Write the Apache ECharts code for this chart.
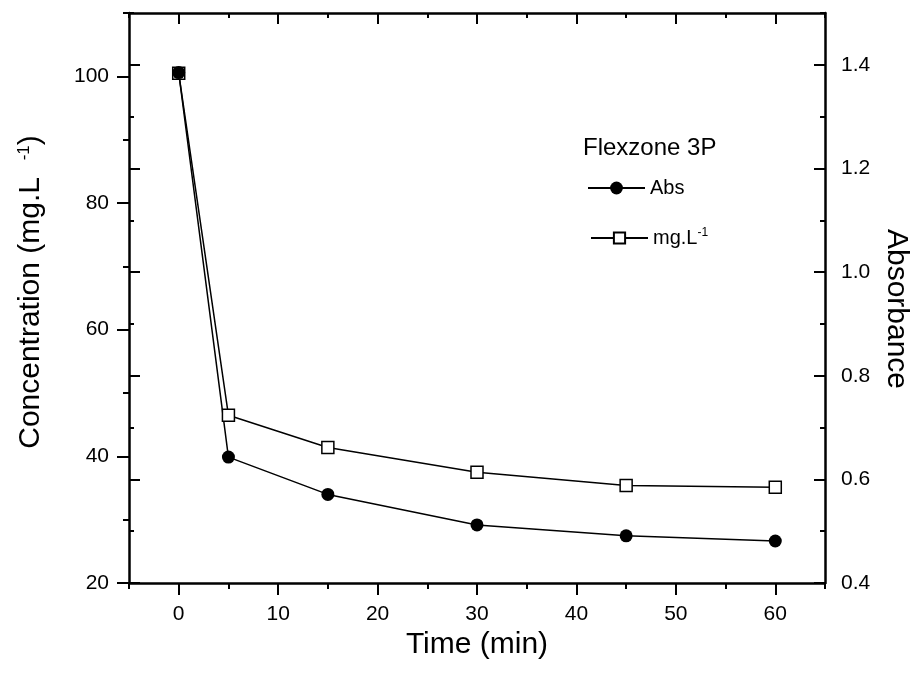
<!DOCTYPE html>
<html><head><meta charset="utf-8">
<script src="https://cdn.jsdelivr.net/npm/echarts@6/dist/echarts.min.js"></script>
<style>html,body{margin:0;padding:0;background:#fff}#c{width:911px;height:674px}</style>
</head><body><div id="c"></div>
<script>
// ---- data ----
const timeMin = [0, 5, 15, 30, 45, 60];
const absorbance = [1.385, 0.643, 0.571, 0.512, 0.491, 0.481];
const concentration = [100.5, 46.5, 41.4, 37.5, 35.4, 35.1];
const xTicks = [0, 10, 20, 30, 40, 50, 60];
const concTicks = [20, 40, 60, 80, 100];
const absTicks = [0.4, 0.6, 0.8, 1.0, 1.2, 1.4];
const xRange = [-5, 65];
const concRange = [20, 110];
const absRange = [0.4, 1.5];
const seriesNames = ['Abs', 'mg.L-1'];
const titleText = 'Flexzone 3P';

// ---- layout ----
const F = '"Liberation Sans", Arial, Helvetica, sans-serif';
const L = 129, R = 86, T = 13, B = 91;
const W = 911 - L - R, H = 674 - T - B;
const last = a => a[a.length - 1];
const pxX = W / (xRange[1] - xRange[0]);
const gX = { left: L + (xTicks[0] - xRange[0]) * pxX, width: (last(xTicks) - xTicks[0]) * pxX, top: T, height: H };
const pxC = H / (concRange[1] - concRange[0]);
const gC = { left: L, width: W, top: T + (concRange[1] - last(concTicks)) * pxC, height: (last(concTicks) - concTicks[0]) * pxC };
const pxA = H / (absRange[1] - absRange[0]);
const gA = { left: L, width: W, top: T + (absRange[1] - last(absTicks)) * pxA, height: (last(absTicks) - absTicks[0]) * pxA };

const blk = '#000';
const line = w => ({ show: true, onZero: false, lineStyle: { color: blk, width: w } });
const noLine = { show: false, onZero: false };
const tick = (len, inside) => ({ show: true, inside: inside, length: len, lineStyle: { color: blk, width: 2 } });
const noLab = { show: false };
const near = (arr, v) => arr.some(t => Math.abs(t - v) < 1e-6);
const hidden = g => ({ gridIndex: g, type: 'value', show: false, axisLine: noLine, axisTick: { show: false }, axisLabel: noLab, splitLine: { show: false } });

const option = {
  animation: false,
  backgroundColor: '#fff',
  grid: [
    { left: L, width: W, top: T, height: H },
    gX, gC, gA
  ],
  xAxis: [
    { gridIndex: 0, type: 'value', position: 'bottom', min: xRange[0], max: xRange[1], interval: 5,
      axisLine: line(2.5), axisTick: tick(6, false), splitLine: { show: false },
      axisLabel: { formatter: v => near(xTicks, v) ? String(v) : '', color: blk, fontSize: 21, fontFamily: F, margin: 21 } },
    { gridIndex: 0, type: 'value', position: 'top', min: xRange[0], max: xRange[1], interval: 5,
      axisLine: line(2.5), axisTick: tick(5, true), splitLine: { show: false }, axisLabel: noLab },
    { gridIndex: 1, type: 'value', position: 'bottom', min: xTicks[0], max: last(xTicks), interval: 10,
      axisLine: noLine, axisTick: tick(12, false), splitLine: { show: false }, axisLabel: noLab },
    { gridIndex: 1, type: 'value', position: 'top', min: xTicks[0], max: last(xTicks), interval: 10,
      axisLine: noLine, axisTick: tick(11, true), splitLine: { show: false }, axisLabel: noLab },
    hidden(2),
    hidden(3)
  ],
  yAxis: [
    { gridIndex: 0, type: 'value', position: 'left', min: concRange[0], max: concRange[1], interval: 10,
      axisLine: line(2.5), axisTick: tick(6, false), splitLine: { show: false },
      axisLabel: { formatter: v => near(concTicks, v) ? String(v) : '', color: blk, fontSize: 21, fontFamily: F, margin: 20 } },
    { gridIndex: 0, type: 'value', position: 'right', min: absRange[0], max: absRange[1], interval: 0.1,
      axisLine: line(2.5), axisTick: tick(5, true), splitLine: { show: false },
      axisLabel: { formatter: v => near(absTicks, v) ? v.toFixed(1) : '', color: blk, fontSize: 21, fontFamily: F, margin: 16 } },
    { gridIndex: 0, type: 'value', position: 'left', min: absRange[0], max: absRange[1], interval: 0.1,
      axisLine: noLine, axisTick: tick(5, true), splitLine: { show: false }, axisLabel: noLab },
    hidden(1),
    { gridIndex: 2, type: 'value', position: 'left', min: concTicks[0], max: last(concTicks), interval: 20,
      axisLine: noLine, axisTick: tick(12, false), splitLine: { show: false }, axisLabel: noLab },
    { gridIndex: 3, type: 'value', position: 'right', min: absTicks[0], max: last(absTicks), interval: 0.2,
      axisLine: noLine, axisTick: tick(11, true), splitLine: { show: false }, axisLabel: noLab },
    { gridIndex: 3, type: 'value', position: 'left', min: absTicks[0], max: last(absTicks), interval: 0.2,
      axisLine: noLine, axisTick: tick(11, true), splitLine: { show: false }, axisLabel: noLab }
  ],
  legend: [
    { data: [seriesNames[0]], left: 587, top: 178, padding: 0, itemWidth: 57, itemHeight: 16,
      textStyle: { color: blk, fontSize: 20, fontFamily: F } },
    { data: [seriesNames[1]], left: 590, top: 227, padding: 0, itemWidth: 57, itemHeight: 14,
      formatter: () => 'mg.L{sup|-1}',
      textStyle: { color: blk, fontSize: 20, fontFamily: F,
        rich: { sup: { fontSize: 12, fontFamily: F, color: blk, verticalAlign: 'top', padding: [0, 0, 10, 0] } } } }
  ],
  graphic: [
    { type: 'text', x: 583, y: 148, style: { text: titleText, fontSize: 24, fontFamily: F, fill: blk, align: 'left', verticalAlign: 'middle' } },
    { type: 'text', x: 477, y: 645, style: { text: 'Time (min)', fontSize: 30, fontFamily: F, fill: blk, align: 'center', verticalAlign: 'middle' } },
    { type: 'text', x: 31, y: 292, rotation: Math.PI / 2,
      style: { text: 'Concentration (mg.L  {sup|-1})', fontSize: 30, fontFamily: F, fill: blk, align: 'center', verticalAlign: 'middle',
        rich: { sup: { fontSize: 17, fontFamily: F, fill: blk, verticalAlign: 'top', padding: [0, 0, 14, 0] } } } },
    { type: 'text', x: 896, y: 309, rotation: -Math.PI / 2,
      style: { text: 'Absorbance', fontSize: 30, fontFamily: F, fill: blk, align: 'center', verticalAlign: 'middle' } }
  ],
  series: [
    { name: seriesNames[1], type: 'line', xAxisIndex: 0, yAxisIndex: 0,
      data: timeMin.map((t, i) => [t, concentration[i]]),
      symbol: 'rect', symbolSize: 12,
      itemStyle: { color: '#fff', borderColor: blk, borderWidth: 1.5 },
      lineStyle: { color: blk, width: 1.5 } },
    { name: seriesNames[0], type: 'line', xAxisIndex: 0, yAxisIndex: 1,
      data: timeMin.map((t, i) => [t, absorbance[i]]),
      symbol: 'circle', symbolSize: 13,
      itemStyle: { color: blk, borderColor: blk, borderWidth: 0 },
      lineStyle: { color: blk, width: 1.5 } }
  ]
};
echarts.init(document.getElementById('c'), null, { renderer: 'canvas' }).setOption(option);
</script>
</body></html>
